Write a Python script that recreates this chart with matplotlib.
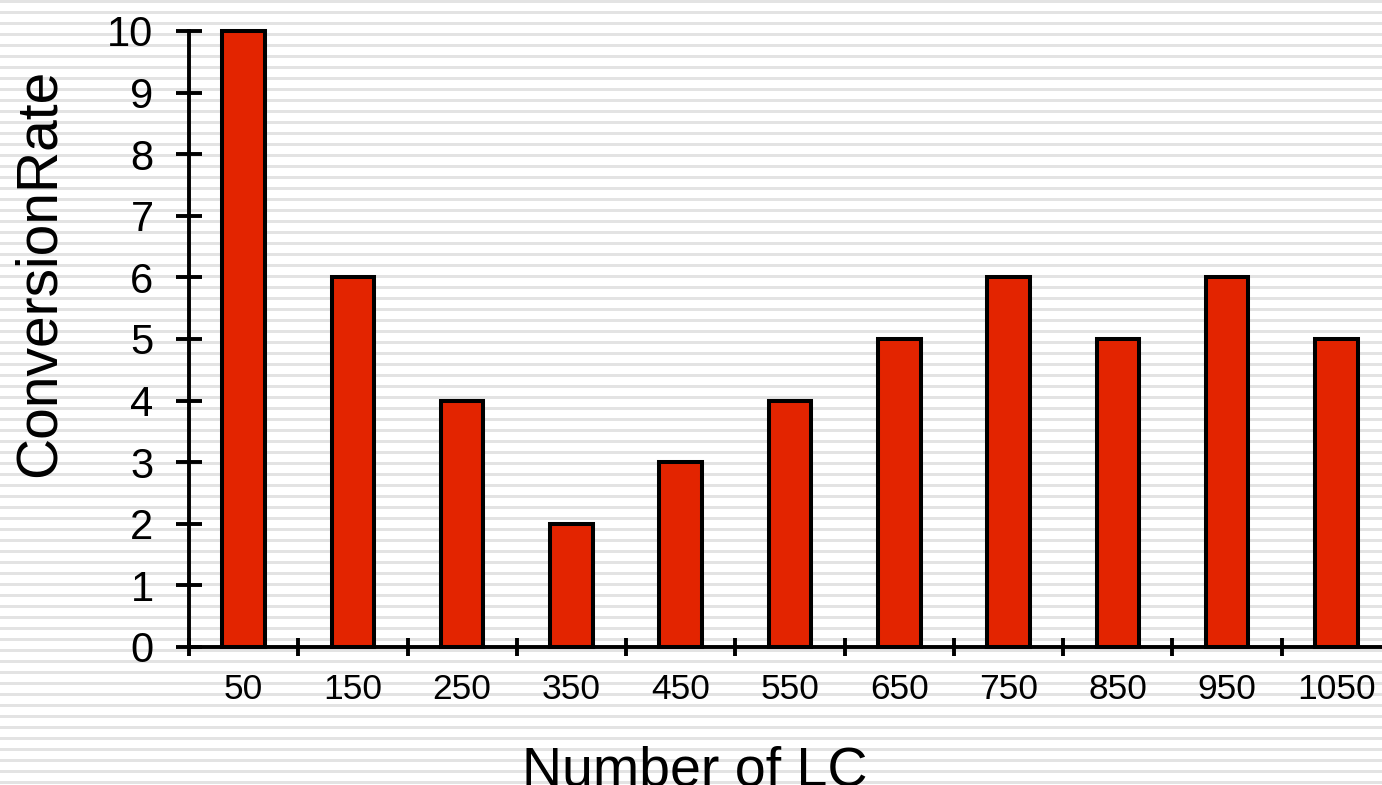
import numpy as np
import matplotlib
matplotlib.use("Agg")
import matplotlib.pyplot as plt

# data
lc_labels = ["50", "150", "250", "350", "450", "550", "650", "750", "850", "950", "1050"]
conversion_rate = [10, 6, 4, 2, 3, 4, 5, 6, 5, 6, 5]
y_ticks = list(range(0, 11))

plt.rcParams['font.family'] = ['Liberation Sans', 'DejaVu Sans']

W, H = 1382, 785
fig = plt.figure(figsize=(W / 100, H / 100), dpi=100)

# striped background (decorative)
bg = fig.add_axes([0, 0, 1, 1], zorder=-1)
bg.set_xlim(0, W)
bg.set_ylim(H, 0)
for y0 in np.arange(0, H, 11):
    bg.axhspan(y0, y0 + 2.7, color="#e3e3e3", lw=0)
bg.axis("off")

# main axes, right edge runs past the figure
left, bottom = 189 / W, (H - 647) / H
ax = fig.add_axes([left, bottom, 1202 / W, 616 / H])
ax.patch.set_visible(False)

x = np.arange(len(lc_labels))
ax.bar(x, conversion_rate, width=0.39, color="#e32400", edgecolor="black",
       linewidth=2.9, clip_on=False, zorder=3)

ax.set_xlim(-0.5, len(lc_labels) - 0.5)
ax.set_ylim(0, 10)

for side in ["top", "right"]:
    ax.spines[side].set_visible(False)
for side in ["left", "bottom"]:
    ax.spines[side].set_linewidth(2.8)

ax.set_yticks(y_ticks)
ax.tick_params(axis="y", which="major", direction="inout", length=19, width=2.8,
               labelsize=30, pad=16)
ax.set_xticks(x)
ax.set_xticklabels(lc_labels)
ax.set_xticks(np.arange(-0.5, len(lc_labels), 1), minor=True)
ax.tick_params(axis="x", which="major", length=0, labelsize=25.5, pad=19)
ax.tick_params(axis="x", which="minor", direction="inout", length=13, width=2.8)
for t in ax.yaxis.get_major_ticks() + ax.xaxis.get_minor_ticks():
    t.tick1line.set_clip_on(False)

ax.set_ylabel("ConversionRate", fontsize=41)
ax.yaxis.set_label_coords((40 - 189) / 1202, (647 - 273) / 616)
ax.yaxis.label.set(ha="center", va="center", rotation_mode="default")

ax.set_xlabel("Number of LC", fontsize=40)
ax.xaxis.set_label_coords((695 - 189) / 1202, (647 - 771) / 616)
ax.xaxis.label.set(ha="center", va="center")

fig.savefig("out.png", dpi=100)
